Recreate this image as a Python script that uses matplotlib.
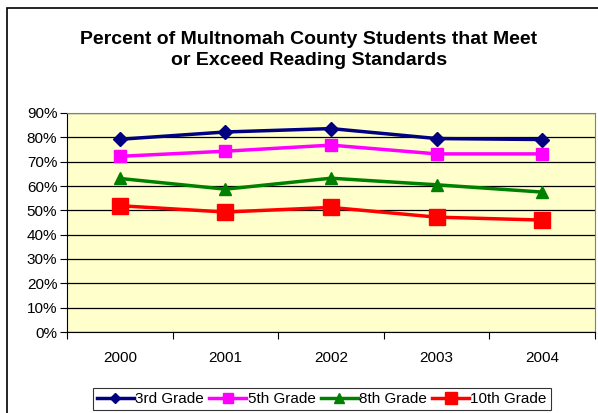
import matplotlib
matplotlib.use("Agg")
import matplotlib.pyplot as plt
from matplotlib.patches import Rectangle
from matplotlib.ticker import FixedLocator, NullFormatter, FuncFormatter

plt.rcParams["font.family"] = ["Liberation Sans", "DejaVu Sans"]

years = ["2000", "2001", "2002", "2003", "2004"]
grade3 = [79.2, 82.2, 83.6, 79.5, 79.1]
grade5 = [72.2, 74.3, 76.8, 73.2, 73.2]
grade8 = [63.1, 58.7, 63.2, 60.5, 57.5]
grade10 = [51.9, 49.3, 51.2, 47.2, 46.0]
series = [
    ("3rd Grade", grade3, "#000080", "D", 7),
    ("5th Grade", grade5, "#FF00FF", "s", 9),
    ("8th Grade", grade8, "#008000", "^", 9),
    ("10th Grade", grade10, "#FF0000", "s", 12),
]

fig = plt.figure(figsize=(5.98, 4.13), dpi=100)
fig.patch.set_facecolor("white")

# outer chart frame (runs past the right and bottom edges)
fig.patches.append(Rectangle((7 / 598, -0.05), 1.1, 1 - 8 / 413 + 0.05,
                             transform=fig.transFigure, fill=False,
                             edgecolor="black", linewidth=1.2))

ax = fig.add_axes([67 / 598, 1 - 332 / 413, (595 - 67) / 598, (332 - 113) / 413])
ax.set_facecolor("#FFFFCC")

x = list(range(len(years)))
for label, vals, color, marker, size in series:
    ax.plot(x, vals, color=color, linewidth=2.5, marker=marker,
            markersize=size, label=label)

ax.set_xlim(-0.5, len(years) - 0.5)
ax.set_ylim(0, 90)
ax.set_yticks(range(0, 91, 10))
ax.yaxis.set_major_formatter(FuncFormatter(lambda v, p: f"{int(v)}%"))
ax.grid(axis="y", color="black", linewidth=0.9)
ax.set_axisbelow(True)

ax.xaxis.set_major_locator(FixedLocator([i - 0.5 for i in range(len(years) + 1)]))
ax.xaxis.set_major_formatter(NullFormatter())
ax.xaxis.set_minor_locator(FixedLocator(x))
ax.set_xticklabels(years, minor=True)
ax.tick_params(axis="x", which="minor", length=0, pad=14, labelsize=11)
ax.tick_params(axis="x", which="major", length=5, direction="out", color="black")
ax.tick_params(axis="y", length=5, labelsize=11, pad=2)

for side in ["top", "right"]:
    ax.spines[side].set_color("#808080")
for side in ["left", "bottom"]:
    ax.spines[side].set_color("black")

fig.text(309 / 598, 1 - 50 / 413,
         "Percent of Multnomah County Students that Meet\nor Exceed Reading Standards",
         ha="center", va="center", fontsize=14, fontweight="bold", linespacing=1.25)

leg = fig.legend(loc="center", bbox_to_anchor=(322 / 598, 1 - 399 / 413), ncol=4,
                 fontsize=11, frameon=True, fancybox=False, edgecolor="black",
                 handlelength=2.4, handletextpad=0.1, columnspacing=0.35,
                 borderpad=0.25, borderaxespad=0, markerscale=0.75)
leg.get_frame().set_linewidth(0.8)

fig.savefig("out.png", dpi=100)
